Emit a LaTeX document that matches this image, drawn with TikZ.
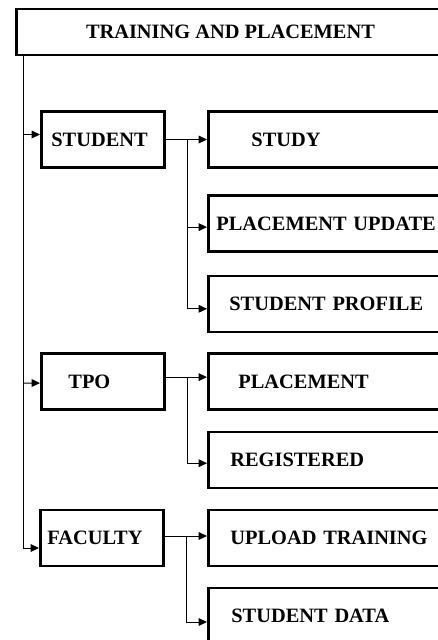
\documentclass[tikz,border=0pt]{standalone}
\usepackage{fontspec}
\setmainfont{Liberation Serif}
\usetikzlibrary{arrows.meta}

\begin{document}
\begin{tikzpicture}[
    x=0.025cm, y=-0.025cm,
    font=\fontsize{14.5}{17}\selectfont\bfseries,
    box/.style={draw,line width=2pt,anchor=west,inner xsep=0pt,inner ysep=0pt},
    head/.style={box,minimum width=10.7cm,minimum height=1.15cm},
    lbox/.style={box,text width=3.075cm,minimum height=1.4cm,align=left,
        execute at begin node={\hspace*{#1}}},
    rbox/.style={box,text width=6cm,minimum height=1.4cm,align=left,
        execute at begin node={\hspace*{#1}}},
    line/.style={line width=0.7pt},
    arrow/.style={line,-{Triangle[length=6pt,width=5.5pt]}}
]
\useasboundingbox (0,0) rectangle (438,640);
\clip (0,0) rectangle (438,640);

% Title
\node[head] (title) at (15,32) {TRAINING AND PLACEMENT};

% Users
\node[lbox=0.25cm] (student) at (40,139.5) {STUDENT};
\node[lbox=0.675cm] (tpo) at (40,381.5) {TPO};
\node[lbox=0.175cm] (faculty) at (39,538) {FACULTY};

% Modules
\node[rbox=1.075cm] (study) at (207,139.5) {STUDY};
\node[rbox=0.2cm] (pupdate) at (207,223.5) {PLACEMENT UPDATE};
\node[rbox=0.525cm] (sprofile) at (207,304) {STUDENT PROFILE};
\node[rbox=0.75cm] (placement) at (207,381.5) {PLACEMENT};
\node[rbox=0.55cm] (registered) at (207,460) {REGISTERED};
\node[rbox=0.55cm] (upload) at (207,538) {UPLOAD TRAINING};
\node[rbox=0.575cm] (sdata) at (207,616) {STUDENT DATA};

% Trunk
\coordinate (trunk) at ([xshift=0.2cm]title.south west);
\draw[arrow] (trunk) |- ([yshift=-0.25cm]faculty.west);
\draw[arrow] (trunk |- student) ++(0,-5) -- ([yshift=0.125cm]student.west);
\draw[arrow] (trunk |- tpo) ++(0,1.5) -- ([yshift=-0.04cm]tpo.west);

% Student branch
\coordinate (sbr) at ([xshift=0.53cm]student.east);
\draw[arrow] (student) -- (study);
\draw[arrow] (sbr) |- ([yshift=-0.09cm]pupdate.west);
\draw[arrow] (sbr) |- ([yshift=-0.12cm]sprofile.west);

% TPO branch
\coordinate (tbr) at ([xshift=0.53cm,yshift=0.11cm]tpo.east);
\draw[arrow] ([yshift=0.11cm]tpo.east) -- ([yshift=0.11cm]placement.west);
\draw[arrow] (tbr) |- ([yshift=-0.08cm]registered.west);

% Faculty branch
\coordinate (fbr) at ([xshift=0.53cm,yshift=0.05cm]faculty.east);
\draw[arrow] ([yshift=0.05cm]faculty.east) -- ([yshift=0.05cm]upload.west);
\draw[arrow] (fbr) |- ([yshift=-0.15cm]sdata.west);

\end{tikzpicture}
\end{document}
